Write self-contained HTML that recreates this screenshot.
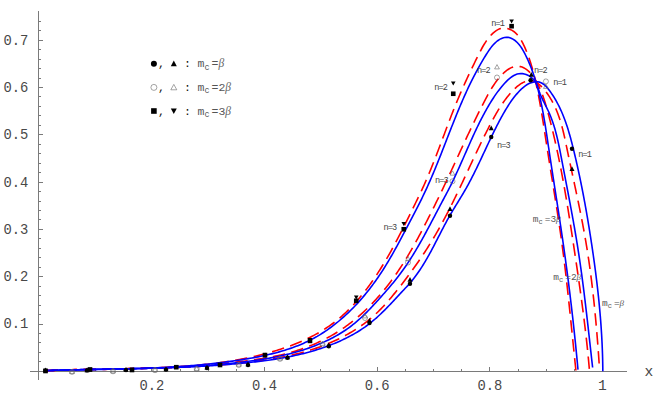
<!DOCTYPE html>
<html><head><meta charset="utf-8"><title>plot</title>
<style>
html,body{margin:0;padding:0;background:#fff;}
body{width:656px;height:405px;overflow:hidden;}
svg{display:block;}
text{font-family:"Liberation Mono",monospace;}
.t{font-size:14.6px;fill:#484848;}
.l{font-size:11.5px;fill:#555;}
.s{font-size:9.5px;fill:#555;}
.n{font-size:8.6px;fill:#444;}
.i{font-family:"Liberation Serif",serif;font-style:italic;}
</style></head><body>
<svg width="656" height="405" viewBox="0 0 656 405">
<rect width="656" height="405" fill="#fff"/>

<path d="M30 371.3H627 M38.4 11V379.5 M38.4 361.84h2.4 M38.4 352.38h2.4 M38.4 342.92h2.4 M38.4 333.46h2.4 M38.4 324.00h4.2 M38.4 314.54h2.4 M38.4 305.08h2.4 M38.4 295.62h2.4 M38.4 286.16h2.4 M38.4 276.70h4.2 M38.4 267.24h2.4 M38.4 257.78h2.4 M38.4 248.32h2.4 M38.4 238.86h2.4 M38.4 229.40h4.2 M38.4 219.94h2.4 M38.4 210.48h2.4 M38.4 201.02h2.4 M38.4 191.56h2.4 M38.4 182.10h4.2 M38.4 172.64h2.4 M38.4 163.18h2.4 M38.4 153.72h2.4 M38.4 144.26h2.4 M38.4 134.80h4.2 M38.4 125.34h2.4 M38.4 115.88h2.4 M38.4 106.42h2.4 M38.4 96.96h2.4 M38.4 87.50h4.2 M38.4 78.04h2.4 M38.4 68.58h2.4 M38.4 59.12h2.4 M38.4 49.66h2.4 M38.4 40.20h4.2 M38.4 30.74h2.4 M38.4 21.28h2.4 M67.37 371.3v-2.4 M95.53 371.3v-2.4 M123.70 371.3v-2.4 M151.86 371.3v-4.2 M180.02 371.3v-2.4 M208.19 371.3v-2.4 M236.36 371.3v-2.4 M264.52 371.3v-4.2 M292.69 371.3v-2.4 M320.85 371.3v-2.4 M349.01 371.3v-2.4 M377.18 371.3v-4.2 M405.34 371.3v-2.4 M433.51 371.3v-2.4 M461.67 371.3v-2.4 M489.84 371.3v-4.2 M518.00 371.3v-2.4 M546.17 371.3v-2.4 M574.34 371.3v-2.4 M602.50 371.3v-4.2" stroke="#7a7a7a" stroke-width="1" fill="none" shape-rendering="crispEdges"/>
<text class="t" x="3.4" y="328.4" textLength="24.9" lengthAdjust="spacingAndGlyphs">0.1</text>
<text class="t" x="3.4" y="281.1" textLength="24.9" lengthAdjust="spacingAndGlyphs">0.2</text>
<text class="t" x="3.4" y="233.8" textLength="24.9" lengthAdjust="spacingAndGlyphs">0.3</text>
<text class="t" x="3.4" y="186.5" textLength="24.9" lengthAdjust="spacingAndGlyphs">0.4</text>
<text class="t" x="3.4" y="139.2" textLength="24.9" lengthAdjust="spacingAndGlyphs">0.5</text>
<text class="t" x="3.4" y="91.9" textLength="24.9" lengthAdjust="spacingAndGlyphs">0.6</text>
<text class="t" x="3.4" y="44.6" textLength="24.9" lengthAdjust="spacingAndGlyphs">0.7</text>
<text class="t" x="139.4" y="390.4" textLength="24.9" lengthAdjust="spacingAndGlyphs">0.2</text>
<text class="t" x="252.1" y="390.4" textLength="24.9" lengthAdjust="spacingAndGlyphs">0.4</text>
<text class="t" x="364.7" y="390.4" textLength="24.9" lengthAdjust="spacingAndGlyphs">0.6</text>
<text class="t" x="477.4" y="390.4" textLength="24.9" lengthAdjust="spacingAndGlyphs">0.8</text>
<text class="t" x="602.5" y="390.3" text-anchor="middle">1</text>
<text class="t" x="644.5" y="375.5">x</text>
<path d="M45.51 370.67 L47.36 370.59 L49.21 370.51 L51.06 370.44 L52.92 370.37 L54.77 370.30 L56.62 370.23 L58.47 370.17 L60.33 370.11 L62.18 370.04 L64.03 369.99 L65.89 369.93 L67.74 369.88 L69.59 369.82 L71.45 369.77 L73.30 369.72 L75.15 369.67 L77.01 369.63 L78.86 369.58 L80.72 369.54 L82.57 369.50 L84.43 369.46 L86.28 369.42 L88.14 369.38 L89.99 369.34 L91.85 369.30 L93.70 369.27 L95.56 369.23 L97.41 369.20 L99.27 369.16 L101.12 369.13 L102.98 369.10 L104.84 369.07 L106.69 369.04 L108.55 369.00 L110.40 368.97 L112.26 368.94 L114.12 368.91 L115.97 368.88 L117.83 368.85 L119.68 368.82 L121.54 368.79 L123.40 368.76 L125.25 368.72 L127.11 368.69 L128.96 368.66 L130.82 368.63 L132.68 368.59 L134.53 368.56 L136.39 368.52 L138.24 368.49 L140.10 368.45 L141.96 368.41 L143.81 368.37 L145.67 368.33 L147.52 368.29 L149.38 368.25 L151.24 368.21 L153.09 368.16 L154.95 368.12 L156.80 368.07 L158.66 368.02 L160.51 367.97 L162.37 367.91 L164.22 367.86 L166.08 367.80 L167.93 367.74 L169.79 367.68 L171.64 367.62 L173.50 367.56 L175.35 367.49 L177.21 367.42 L179.06 367.35 L180.91 367.27 L182.77 367.20 L184.62 367.12 L186.48 367.03 L188.33 366.95 L190.18 366.86 L192.03 366.77 L193.89 366.68 L195.74 366.58 L197.59 366.48 L199.45 366.38 L201.30 366.27 L203.15 366.16 L205.00 366.05 L206.85 365.94 L208.70 365.82 L210.55 365.69 L212.41 365.57 L214.26 365.43 L216.11 365.30 L217.96 365.16 L219.81 365.02 L221.66 364.87 L223.51 364.72 L225.36 364.57 L227.20 364.41 L229.05 364.25 L230.90 364.08 L232.75 363.91 L234.60 363.73 L236.44 363.55 L238.29 363.37 L240.14 363.18 L241.98 362.98 L243.83 362.78 L245.68 362.58 L247.52 362.37 L249.37 362.15 L251.21 361.93 L253.06 361.70 L254.90 361.47 L256.74 361.23 L258.58 360.99 L260.42 360.74 L262.26 360.48 L264.10 360.21 L265.94 359.94 L267.77 359.65 L269.60 359.36 L271.44 359.07 L273.27 358.76 L275.09 358.44 L276.92 358.12 L278.74 357.78 L280.56 357.44 L282.38 357.09 L284.20 356.72 L286.01 356.35 L287.82 355.96 L289.63 355.57 L291.43 355.16 L293.23 354.74 L295.03 354.31 L296.83 353.87 L298.62 353.41 L300.41 352.94 L302.19 352.46 L303.97 351.97 L305.75 351.46 L307.52 350.94 L309.29 350.41 L311.05 349.86 L312.81 349.30 L314.57 348.72 L316.32 348.13 L318.06 347.52 L319.80 346.90 L321.54 346.27 L323.27 345.61 L325.00 344.94 L326.72 344.26 L328.44 343.55 L330.15 342.83 L331.85 342.10 L333.55 341.34 L335.24 340.57 L336.93 339.78 L338.61 338.97 L340.29 338.15 L341.96 337.30 L343.62 336.44 L345.27 335.56 L346.92 334.66 L348.55 333.74 L350.18 332.80 L351.79 331.84 L353.40 330.87 L354.99 329.88 L356.57 328.86 L358.14 327.83 L359.69 326.79 L361.23 325.72 L362.76 324.63 L364.26 323.53 L365.76 322.41 L367.23 321.27 L368.69 320.11 L370.13 318.93 L371.55 317.73 L372.95 316.52 L374.34 315.28 L375.70 314.03 L377.04 312.77 L378.37 311.48 L379.68 310.18 L380.97 308.87 L382.25 307.54 L383.51 306.19 L384.76 304.84 L386.00 303.47 L387.22 302.09 L388.44 300.70 L389.64 299.31 L390.83 297.90 L392.02 296.48 L393.19 295.06 L394.36 293.63 L395.53 292.19 L396.69 290.75 L397.84 289.30 L398.99 287.85 L400.13 286.39 L401.27 284.93 L402.41 283.46 L403.54 281.99 L404.66 280.52 L405.79 279.04 L406.90 277.56 L408.01 276.07 L409.12 274.58 L410.22 273.08 L411.32 271.58 L412.41 270.08 L413.49 268.57 L414.57 267.06 L415.64 265.54 L416.71 264.02 L417.77 262.49 L418.83 260.96 L419.88 259.43 L420.92 257.89 L421.96 256.35 L422.99 254.80 L424.01 253.25 L425.03 251.70 L426.04 250.14 L427.04 248.57 L428.04 247.01 L429.03 245.43 L430.01 243.86 L430.99 242.28 L431.96 240.69 L432.92 239.11 L433.87 237.51 L434.82 235.92 L435.76 234.32 L436.69 232.71 L437.61 231.10 L438.52 229.49 L439.43 227.88 L440.33 226.26 L441.23 224.63 L442.12 223.01 L443.00 221.38 L443.88 219.74 L444.74 218.11 L445.61 216.47 L446.47 214.83 L447.32 213.18 L448.17 211.53 L449.01 209.88 L449.85 208.23 L450.68 206.58 L451.51 204.92 L452.34 203.26 L453.16 201.60 L453.98 199.94 L454.79 198.27 L455.60 196.60 L456.41 194.94 L457.21 193.27 L458.01 191.59 L458.81 189.92 L459.61 188.25 L460.40 186.57 L461.20 184.90 L461.99 183.22 L462.78 181.54 L463.56 179.87 L464.35 178.19 L465.13 176.51 L465.92 174.83 L466.70 173.15 L467.49 171.47 L468.27 169.79 L469.05 168.11 L469.84 166.43 L470.62 164.75 L471.41 163.08 L472.19 161.40 L472.98 159.72 L473.77 158.04 L474.56 156.37 L475.35 154.69 L476.14 153.02 L476.94 151.35 L477.73 149.68 L478.53 148.01 L479.33 146.34 L480.14 144.67 L480.95 143.01 L481.76 141.34 L482.57 139.68 L483.39 138.02 L484.21 136.37 L485.04 134.71 L485.87 133.06 L486.70 131.41 L487.54 129.76 L488.39 128.12 L489.23 126.48 L490.09 124.84 L490.95 123.20 L491.81 121.57 L492.68 119.94 L493.56 118.31 L494.46 116.69 L495.36 115.06 L496.29 113.44 L497.23 111.81 L498.20 110.19 L499.20 108.56 L500.23 106.93 L501.30 105.29 L502.40 103.66 L503.54 102.01 L504.73 100.36 L505.96 98.71 L507.24 97.05 L508.56 95.41 L509.92 93.79 L511.32 92.20 L512.75 90.67 L514.21 89.19 L515.69 87.80 L517.20 86.48 L518.72 85.27 L520.26 84.17 L521.81 83.19 L523.36 82.35 L524.92 81.66 L526.47 81.13 L528.03 80.78 L529.57 80.61 L531.11 80.64 L532.63 80.89 L534.13 81.35 L535.61 82.02 L537.06 82.87 L538.49 83.89 L539.88 85.04 L541.24 86.32 L542.56 87.69 L543.84 89.14 L545.08 90.65 L546.27 92.19 L547.42 93.75 L548.51 95.33 L549.56 96.93 L550.56 98.54 L551.52 100.17 L552.44 101.81 L553.32 103.47 L554.16 105.14 L554.97 106.82 L555.74 108.52 L556.47 110.23 L557.18 111.95 L557.85 113.68 L558.49 115.43 L559.11 117.18 L559.70 118.94 L560.26 120.71 L560.80 122.49 L561.32 124.28 L561.82 126.07 L562.30 127.87 L562.77 129.67 L563.22 131.49 L563.65 133.30 L564.07 135.12 L564.49 136.94 L564.89 138.77 L565.28 140.60 L565.67 142.43 L566.05 144.26 L566.43 146.09 L566.81 147.92 L567.19 149.75 L567.57 151.58 L567.95 153.41 L568.33 155.23 L568.72 157.06 L569.10 158.88 L569.49 160.71 L569.87 162.53 L570.26 164.35 L570.65 166.17 L571.04 167.99 L571.43 169.81 L571.82 171.63 L572.20 173.44 L572.59 175.26 L572.98 177.08 L573.37 178.89 L573.76 180.71 L574.15 182.52 L574.54 184.33 L574.92 186.15 L575.31 187.96 L575.70 189.77 L576.08 191.59 L576.46 193.40 L576.85 195.21 L577.23 197.02 L577.61 198.84 L577.98 200.65 L578.36 202.46 L578.73 204.27 L579.11 206.08 L579.48 207.90 L579.84 209.71 L580.21 211.52 L580.57 213.34 L580.93 215.15 L581.29 216.96 L581.65 218.78 L582.00 220.59 L582.35 222.41 L582.70 224.22 L583.04 226.04 L583.38 227.86 L583.72 229.68 L584.05 231.50 L584.38 233.32 L584.70 235.14 L585.02 236.96 L585.34 238.78 L585.66 240.61 L585.96 242.43 L586.27 244.26 L586.57 246.08 L586.87 247.91 L587.16 249.74 L587.45 251.57 L587.73 253.40 L588.01 255.23 L588.29 257.07 L588.56 258.90 L588.83 260.74 L589.10 262.57 L589.36 264.41 L589.62 266.24 L589.87 268.08 L590.12 269.92 L590.37 271.76 L590.61 273.60 L590.86 275.44 L591.09 277.28 L591.33 279.12 L591.56 280.97 L591.78 282.81 L592.01 284.65 L592.23 286.50 L592.45 288.34 L592.66 290.19 L592.87 292.03 L593.08 293.88 L593.29 295.72 L593.49 297.57 L593.69 299.42 L593.89 301.27 L594.08 303.11 L594.27 304.96 L594.46 306.81 L594.65 308.66 L594.83 310.51 L595.01 312.36 L595.19 314.21 L595.36 316.06 L595.54 317.91 L595.71 319.76 L595.88 321.61 L596.04 323.46 L596.21 325.31 L596.37 327.16 L596.53 329.01 L596.69 330.86 L596.84 332.71 L596.99 334.56 L597.14 336.41 L597.29 338.26 L597.44 340.11 L597.59 341.96 L597.73 343.81 L597.87 345.66 L598.01 347.51 L598.15 349.36 L598.29 351.21 L598.42 353.06 L598.56 354.90 L598.69 356.75 L598.82 358.60 L598.95 360.45 L599.07 362.30 L599.20 364.14 L599.32 365.99" stroke="#ff0000" stroke-width="1.6" fill="none" stroke-dasharray="12.5 6.5"/>
<path d="M45.50 370.56 L47.39 370.52 L49.28 370.47 L51.17 370.43 L53.06 370.39 L54.95 370.35 L56.84 370.30 L58.73 370.26 L60.62 370.23 L62.51 370.19 L64.40 370.15 L66.29 370.11 L68.19 370.07 L70.08 370.04 L71.97 370.00 L73.86 369.97 L75.75 369.93 L77.64 369.90 L79.53 369.86 L81.43 369.82 L83.32 369.79 L85.21 369.75 L87.10 369.72 L88.99 369.68 L90.89 369.65 L92.78 369.61 L94.67 369.58 L96.56 369.54 L98.45 369.50 L100.35 369.47 L102.24 369.43 L104.13 369.39 L106.02 369.35 L107.91 369.31 L109.81 369.27 L111.70 369.23 L113.59 369.19 L115.48 369.15 L117.38 369.10 L119.27 369.06 L121.16 369.01 L123.05 368.97 L124.94 368.92 L126.83 368.87 L128.73 368.82 L130.62 368.77 L132.51 368.71 L134.40 368.66 L136.29 368.60 L138.18 368.54 L140.07 368.49 L141.97 368.42 L143.86 368.36 L145.75 368.30 L147.64 368.23 L149.53 368.16 L151.42 368.09 L153.31 368.02 L155.20 367.95 L157.09 367.87 L158.98 367.79 L160.87 367.71 L162.76 367.63 L164.65 367.55 L166.54 367.46 L168.43 367.37 L170.32 367.28 L172.20 367.18 L174.09 367.08 L175.98 366.98 L177.87 366.88 L179.76 366.78 L181.64 366.67 L183.53 366.56 L185.42 366.44 L187.31 366.33 L189.19 366.21 L191.08 366.08 L192.97 365.96 L194.85 365.83 L196.74 365.70 L198.62 365.56 L200.51 365.42 L202.39 365.28 L204.28 365.13 L206.16 364.98 L208.05 364.83 L209.93 364.67 L211.81 364.51 L213.70 364.35 L215.58 364.18 L217.46 364.01 L219.34 363.83 L221.23 363.65 L223.11 363.47 L224.99 363.28 L226.87 363.09 L228.75 362.89 L230.63 362.69 L232.51 362.49 L234.39 362.28 L236.27 362.07 L238.15 361.85 L240.03 361.63 L241.90 361.40 L243.78 361.17 L245.66 360.94 L247.54 360.69 L249.41 360.45 L251.29 360.20 L253.16 359.94 L255.04 359.67 L256.91 359.40 L258.78 359.12 L260.65 358.83 L262.52 358.53 L264.39 358.22 L266.25 357.90 L268.12 357.57 L269.98 357.23 L271.84 356.88 L273.69 356.51 L275.55 356.13 L277.40 355.74 L279.25 355.33 L281.09 354.91 L282.94 354.47 L284.78 354.01 L286.61 353.54 L288.45 353.05 L290.28 352.55 L292.10 352.03 L293.92 351.49 L295.74 350.93 L297.55 350.36 L299.35 349.76 L301.15 349.16 L302.95 348.53 L304.74 347.89 L306.52 347.22 L308.29 346.54 L310.06 345.85 L311.82 345.13 L313.57 344.40 L315.31 343.65 L317.05 342.88 L318.77 342.10 L320.49 341.29 L322.20 340.47 L323.89 339.63 L325.58 338.77 L327.26 337.90 L328.92 337.00 L330.58 336.09 L332.23 335.16 L333.86 334.21 L335.48 333.24 L337.09 332.25 L338.68 331.25 L340.27 330.22 L341.84 329.18 L343.40 328.12 L344.95 327.04 L346.48 325.95 L348.00 324.84 L349.51 323.71 L351.01 322.56 L352.50 321.40 L353.97 320.22 L355.43 319.03 L356.88 317.82 L358.32 316.60 L359.75 315.36 L361.16 314.11 L362.56 312.84 L363.95 311.56 L365.33 310.26 L366.69 308.96 L368.05 307.63 L369.39 306.30 L370.72 304.95 L372.04 303.59 L373.34 302.22 L374.64 300.84 L375.92 299.44 L377.19 298.04 L378.45 296.62 L379.70 295.19 L380.93 293.76 L382.16 292.31 L383.37 290.85 L384.57 289.38 L385.76 287.90 L386.94 286.42 L388.11 284.92 L389.27 283.42 L390.41 281.91 L391.55 280.39 L392.67 278.86 L393.78 277.33 L394.88 275.78 L395.97 274.24 L397.04 272.68 L398.11 271.12 L399.17 269.55 L400.21 267.98 L401.25 266.40 L402.27 264.81 L403.29 263.22 L404.29 261.62 L405.29 260.02 L406.28 258.41 L407.26 256.80 L408.23 255.18 L409.19 253.56 L410.15 251.93 L411.10 250.30 L412.04 248.66 L412.97 247.02 L413.90 245.37 L414.82 243.73 L415.74 242.07 L416.65 240.42 L417.55 238.76 L418.45 237.10 L419.35 235.43 L420.24 233.76 L421.12 232.09 L422.00 230.42 L422.88 228.74 L423.75 227.06 L424.62 225.38 L425.49 223.70 L426.35 222.01 L427.21 220.32 L428.07 218.64 L428.93 216.94 L429.78 215.25 L430.64 213.56 L431.49 211.87 L432.34 210.17 L433.18 208.48 L434.03 206.78 L434.87 205.08 L435.70 203.39 L436.54 201.69 L437.37 199.99 L438.20 198.29 L439.03 196.60 L439.85 194.90 L440.67 193.20 L441.49 191.51 L442.30 189.81 L443.11 188.12 L443.91 186.43 L444.71 184.74 L445.51 183.04 L446.31 181.35 L447.10 179.66 L447.90 177.98 L448.68 176.29 L449.47 174.60 L450.26 172.91 L451.04 171.22 L451.82 169.53 L452.61 167.85 L453.39 166.16 L454.17 164.47 L454.95 162.78 L455.73 161.10 L456.50 159.41 L457.28 157.72 L458.06 156.03 L458.84 154.34 L459.62 152.65 L460.41 150.96 L461.19 149.27 L461.97 147.57 L462.76 145.88 L463.55 144.19 L464.34 142.49 L465.13 140.79 L465.92 139.10 L466.72 137.40 L467.52 135.70 L468.32 134.00 L469.13 132.29 L469.94 130.59 L470.75 128.88 L471.57 127.17 L472.39 125.46 L473.21 123.75 L474.04 122.04 L474.87 120.32 L475.71 118.60 L476.56 116.88 L477.41 115.16 L478.26 113.44 L479.12 111.71 L479.99 109.98 L480.86 108.25 L481.74 106.51 L482.62 104.78 L483.52 103.04 L484.41 101.29 L485.32 99.55 L486.24 97.80 L487.18 96.04 L488.14 94.27 L489.14 92.48 L490.19 90.68 L491.29 88.85 L492.44 87.02 L493.64 85.19 L494.88 83.37 L496.16 81.59 L497.49 79.84 L498.85 78.14 L500.25 76.51 L501.68 74.95 L503.14 73.49 L504.62 72.12 L506.14 70.86 L507.67 69.73 L509.22 68.74 L510.80 67.89 L512.38 67.20 L513.98 66.69 L515.59 66.37 L517.20 66.24 L518.82 66.31 L520.44 66.61 L522.05 67.11 L523.64 67.79 L525.20 68.66 L526.72 69.67 L528.19 70.83 L529.59 72.12 L530.92 73.52 L532.17 75.02 L533.34 76.60 L534.44 78.24 L535.47 79.92 L536.45 81.62 L537.39 83.34 L538.27 85.07 L539.11 86.82 L539.92 88.57 L540.68 90.32 L541.41 92.09 L542.10 93.87 L542.77 95.65 L543.41 97.44 L544.02 99.23 L544.60 101.04 L545.17 102.84 L545.72 104.65 L546.25 106.46 L546.77 108.28 L547.28 110.10 L547.78 111.92 L548.28 113.75 L548.77 115.57 L549.25 117.39 L549.73 119.22 L550.21 121.05 L550.67 122.88 L551.14 124.71 L551.60 126.54 L552.05 128.37 L552.50 130.21 L552.94 132.04 L553.38 133.88 L553.81 135.72 L554.24 137.56 L554.67 139.40 L555.09 141.24 L555.51 143.08 L555.92 144.92 L556.32 146.77 L556.73 148.61 L557.13 150.46 L557.52 152.30 L557.91 154.15 L558.30 156.00 L558.68 157.85 L559.06 159.70 L559.44 161.55 L559.81 163.41 L560.18 165.26 L560.54 167.11 L560.91 168.97 L561.26 170.82 L561.62 172.68 L561.97 174.54 L562.32 176.39 L562.66 178.25 L563.01 180.11 L563.35 181.97 L563.68 183.83 L564.02 185.69 L564.35 187.56 L564.68 189.42 L565.00 191.28 L565.33 193.14 L565.65 195.01 L565.96 196.87 L566.28 198.74 L566.59 200.60 L566.91 202.47 L567.22 204.34 L567.52 206.20 L567.83 208.07 L568.13 209.94 L568.44 211.81 L568.74 213.68 L569.03 215.54 L569.33 217.41 L569.63 219.28 L569.92 221.15 L570.21 223.02 L570.50 224.89 L570.79 226.76 L571.08 228.63 L571.37 230.51 L571.66 232.38 L571.94 234.25 L572.23 236.12 L572.51 237.99 L572.80 239.86 L573.08 241.73 L573.36 243.61 L573.64 245.48 L573.92 247.35 L574.20 249.22 L574.48 251.09 L574.76 252.97 L575.04 254.84 L575.32 256.71 L575.60 258.58 L575.88 260.45 L576.15 262.33 L576.43 264.20 L576.71 266.07 L576.98 267.94 L577.26 269.81 L577.53 271.69 L577.80 273.56 L578.08 275.43 L578.35 277.30 L578.62 279.17 L578.89 281.05 L579.15 282.92 L579.42 284.79 L579.68 286.67 L579.95 288.54 L580.21 290.41 L580.47 292.29 L580.73 294.16 L580.99 296.03 L581.25 297.91 L581.50 299.78 L581.76 301.65 L582.01 303.53 L582.26 305.40 L582.50 307.28 L582.75 309.15 L583.00 311.03 L583.24 312.90 L583.48 314.78 L583.72 316.66 L583.95 318.53 L584.19 320.41 L584.42 322.29 L584.65 324.16 L584.88 326.04 L585.10 327.92 L585.32 329.80 L585.54 331.67 L585.76 333.55 L585.98 335.43 L586.19 337.31 L586.40 339.19 L586.61 341.07 L586.81 342.95 L587.01 344.83 L587.21 346.71 L587.41 348.59 L587.60 350.47 L587.79 352.36 L587.97 354.24 L588.16 356.12 L588.34 358.00 L588.52 359.89 L588.69 361.77 L588.86 363.66 L589.03 365.54 L589.19 367.43 L589.35 369.31 L589.51 371.20" stroke="#ff0000" stroke-width="1.6" fill="none" stroke-dasharray="12.5 6.5"/>
<path d="M45.52 370.71 L47.51 370.61 L49.51 370.51 L51.50 370.41 L53.50 370.33 L55.50 370.24 L57.49 370.16 L59.49 370.08 L61.49 370.01 L63.49 369.94 L65.49 369.87 L67.49 369.81 L69.49 369.75 L71.50 369.69 L73.50 369.64 L75.50 369.59 L77.51 369.54 L79.51 369.49 L81.52 369.45 L83.52 369.40 L85.53 369.36 L87.54 369.32 L89.54 369.28 L91.55 369.25 L93.56 369.21 L95.57 369.18 L97.57 369.14 L99.58 369.11 L101.59 369.08 L103.60 369.05 L105.61 369.02 L107.62 368.99 L109.63 368.95 L111.64 368.92 L113.65 368.89 L115.66 368.86 L117.67 368.83 L119.68 368.79 L121.69 368.76 L123.71 368.72 L125.72 368.69 L127.73 368.65 L129.74 368.61 L131.75 368.57 L133.76 368.52 L135.77 368.48 L137.78 368.43 L139.79 368.38 L141.80 368.33 L143.81 368.27 L145.82 368.21 L147.83 368.15 L149.84 368.09 L151.84 368.02 L153.85 367.95 L155.86 367.88 L157.87 367.80 L159.87 367.72 L161.88 367.63 L163.89 367.54 L165.89 367.45 L167.90 367.35 L169.90 367.24 L171.91 367.13 L173.91 367.02 L175.91 366.90 L177.91 366.78 L179.92 366.65 L181.92 366.51 L183.92 366.37 L185.92 366.23 L187.92 366.08 L189.91 365.92 L191.91 365.75 L193.91 365.58 L195.90 365.40 L197.90 365.22 L199.89 365.03 L201.88 364.83 L203.88 364.62 L205.87 364.41 L207.86 364.19 L209.85 363.96 L211.83 363.72 L213.82 363.47 L215.81 363.22 L217.79 362.96 L219.77 362.69 L221.76 362.41 L223.74 362.12 L225.72 361.83 L227.70 361.52 L229.68 361.21 L231.65 360.88 L233.63 360.55 L235.60 360.20 L237.57 359.85 L239.54 359.49 L241.51 359.11 L243.48 358.73 L245.45 358.33 L247.41 357.93 L249.38 357.51 L251.34 357.09 L253.30 356.65 L255.26 356.20 L257.22 355.74 L259.17 355.26 L261.13 354.78 L263.08 354.28 L265.03 353.78 L266.98 353.26 L268.93 352.72 L270.87 352.18 L272.81 351.62 L274.75 351.04 L276.68 350.46 L278.61 349.86 L280.54 349.24 L282.46 348.61 L284.37 347.97 L286.28 347.31 L288.18 346.63 L290.07 345.94 L291.96 345.23 L293.84 344.51 L295.71 343.76 L297.57 343.01 L299.42 342.23 L301.27 341.44 L303.10 340.62 L304.93 339.79 L306.74 338.94 L308.54 338.08 L310.33 337.19 L312.11 336.28 L313.88 335.36 L315.63 334.41 L317.37 333.44 L319.10 332.45 L320.81 331.44 L322.51 330.41 L324.20 329.36 L325.87 328.29 L327.52 327.19 L329.16 326.07 L330.78 324.93 L332.39 323.76 L333.97 322.57 L335.54 321.36 L337.10 320.12 L338.63 318.87 L340.15 317.59 L341.65 316.29 L343.14 314.96 L344.61 313.62 L346.07 312.26 L347.50 310.88 L348.93 309.48 L350.33 308.06 L351.73 306.62 L353.10 305.16 L354.47 303.69 L355.81 302.20 L357.15 300.70 L358.46 299.18 L359.77 297.64 L361.06 296.09 L362.34 294.53 L363.60 292.95 L364.85 291.36 L366.08 289.76 L367.31 288.14 L368.52 286.52 L369.71 284.88 L370.90 283.23 L372.07 281.57 L373.23 279.90 L374.38 278.22 L375.52 276.53 L376.64 274.84 L377.76 273.14 L378.86 271.43 L379.95 269.71 L381.03 267.99 L382.10 266.26 L383.16 264.52 L384.21 262.78 L385.25 261.04 L386.28 259.29 L387.30 257.54 L388.31 255.79 L389.31 254.03 L390.30 252.28 L391.28 250.52 L392.25 248.76 L393.22 247.00 L394.17 245.24 L395.12 243.48 L396.06 241.72 L396.99 239.96 L397.92 238.21 L398.83 236.45 L399.74 234.70 L400.65 232.95 L401.55 231.20 L402.44 229.44 L403.33 227.69 L404.22 225.93 L405.10 224.18 L405.98 222.42 L406.86 220.65 L407.74 218.89 L408.61 217.11 L409.49 215.34 L410.37 213.56 L411.24 211.77 L412.12 209.98 L413.01 208.18 L413.89 206.37 L414.78 204.56 L415.67 202.74 L416.57 200.91 L417.47 199.07 L418.37 197.22 L419.27 195.37 L420.16 193.51 L421.03 191.66 L421.90 189.80 L422.75 187.95 L423.60 186.09 L424.43 184.23 L425.25 182.37 L426.06 180.51 L426.87 178.65 L427.66 176.79 L428.45 174.93 L429.23 173.06 L430.00 171.20 L430.76 169.34 L431.51 167.47 L432.26 165.61 L433.01 163.75 L433.74 161.88 L434.48 160.02 L435.20 158.15 L435.93 156.29 L436.64 154.42 L437.36 152.56 L438.07 150.69 L438.78 148.83 L439.48 146.96 L440.19 145.10 L440.89 143.24 L441.59 141.37 L442.28 139.51 L442.98 137.65 L443.68 135.78 L444.38 133.92 L445.07 132.06 L445.77 130.20 L446.47 128.34 L447.17 126.48 L447.88 124.62 L448.58 122.76 L449.29 120.90 L450.00 119.04 L450.71 117.19 L451.43 115.33 L452.15 113.48 L452.88 111.63 L453.61 109.77 L454.35 107.92 L455.09 106.07 L455.84 104.23 L456.60 102.38 L457.36 100.53 L458.13 98.69 L458.91 96.84 L459.69 95.00 L460.49 93.16 L461.28 91.32 L462.09 89.49 L462.90 87.65 L463.72 85.82 L464.54 83.99 L465.37 82.16 L466.20 80.34 L467.04 78.51 L467.89 76.69 L468.74 74.87 L469.59 73.06 L470.45 71.25 L471.32 69.44 L472.18 67.63 L473.06 65.83 L473.93 64.03 L474.81 62.23 L475.69 60.44 L476.58 58.65 L477.47 56.86 L478.36 55.08 L479.26 53.30 L480.16 51.53 L481.08 49.76 L482.03 48.00 L483.01 46.26 L484.04 44.52 L485.12 42.81 L486.25 41.10 L487.46 39.42 L488.74 37.76 L490.10 36.14 L491.53 34.58 L493.04 33.13 L494.60 31.79 L496.23 30.62 L497.92 29.63 L499.66 28.85 L501.44 28.31 L503.27 28.05 L505.14 28.07 L507.02 28.36 L508.88 28.89 L510.70 29.65 L512.46 30.62 L514.14 31.76 L515.70 33.07 L517.13 34.52 L518.44 36.09 L519.65 37.77 L520.77 39.52 L521.81 41.33 L522.79 43.19 L523.71 45.07 L524.59 46.95 L525.43 48.84 L526.24 50.73 L527.01 52.62 L527.75 54.51 L528.46 56.41 L529.14 58.30 L529.79 60.21 L530.41 62.11 L531.01 64.02 L531.58 65.93 L532.14 67.84 L532.67 69.75 L533.18 71.67 L533.68 73.59 L534.16 75.52 L534.62 77.45 L535.08 79.38 L535.52 81.32 L535.96 83.25 L536.38 85.20 L536.80 87.14 L537.21 89.09 L537.61 91.05 L538.00 93.00 L538.39 94.96 L538.77 96.92 L539.14 98.89 L539.51 100.85 L539.87 102.82 L540.23 104.79 L540.58 106.77 L540.92 108.74 L541.26 110.72 L541.60 112.70 L541.93 114.68 L542.25 116.66 L542.58 118.64 L542.90 120.63 L543.22 122.61 L543.53 124.60 L543.84 126.59 L544.15 128.58 L544.46 130.57 L544.77 132.56 L545.07 134.55 L545.38 136.54 L545.68 138.53 L545.99 140.52 L546.29 142.51 L546.60 144.50 L546.90 146.49 L547.21 148.47 L547.52 150.46 L547.83 152.45 L548.14 154.44 L548.45 156.42 L548.76 158.41 L549.08 160.39 L549.39 162.38 L549.71 164.36 L550.03 166.35 L550.34 168.33 L550.66 170.31 L550.98 172.29 L551.30 174.27 L551.62 176.25 L551.94 178.24 L552.26 180.22 L552.58 182.20 L552.90 184.18 L553.22 186.16 L553.54 188.13 L553.85 190.11 L554.17 192.09 L554.49 194.07 L554.81 196.05 L555.12 198.03 L555.44 200.01 L555.75 201.99 L556.07 203.97 L556.38 205.94 L556.69 207.92 L557.00 209.90 L557.31 211.88 L557.61 213.86 L557.92 215.84 L558.22 217.82 L558.52 219.80 L558.82 221.78 L559.12 223.76 L559.41 225.74 L559.70 227.72 L559.99 229.71 L560.28 231.69 L560.57 233.67 L560.85 235.65 L561.13 237.64 L561.40 239.62 L561.68 241.61 L561.95 243.59 L562.22 245.58 L562.48 247.57 L562.74 249.55 L563.00 251.54 L563.26 253.53 L563.52 255.52 L563.77 257.51 L564.02 259.50 L564.26 261.49 L564.51 263.48 L564.75 265.47 L564.99 267.46 L565.23 269.45 L565.47 271.44 L565.70 273.43 L565.93 275.43 L566.16 277.42 L566.39 279.41 L566.62 281.41 L566.84 283.40 L567.07 285.40 L567.29 287.39 L567.51 289.39 L567.73 291.38 L567.94 293.38 L568.16 295.37 L568.37 297.37 L568.59 299.36 L568.80 301.36 L569.01 303.35 L569.22 305.35 L569.43 307.35 L569.64 309.34 L569.85 311.34 L570.05 313.33 L570.26 315.33 L570.47 317.33 L570.67 319.32 L570.88 321.32 L571.08 323.32 L571.28 325.31 L571.49 327.31 L571.69 329.31 L571.89 331.30 L572.09 333.30 L572.30 335.29 L572.50 337.29 L572.70 339.29 L572.90 341.28 L573.11 343.28 L573.31 345.27 L573.51 347.27 L573.71 349.26 L573.92 351.26 L574.12 353.25 L574.33 355.24 L574.53 357.24 L574.74 359.23 L574.94 361.22 L575.15 363.22 L575.36 365.21 L575.57 367.20 L575.78 369.19 L575.99 371.19" stroke="#ff0000" stroke-width="1.6" fill="none" stroke-dasharray="12.5 6.5"/>
<path d="M45.51 370.63 L47.38 370.56 L49.25 370.50 L51.12 370.43 L52.99 370.37 L54.86 370.31 L56.73 370.26 L58.60 370.20 L60.47 370.15 L62.34 370.10 L64.22 370.04 L66.09 369.99 L67.96 369.95 L69.83 369.90 L71.70 369.85 L73.58 369.81 L75.45 369.76 L77.32 369.72 L79.19 369.68 L81.07 369.64 L82.94 369.60 L84.81 369.56 L86.69 369.52 L88.56 369.48 L90.43 369.45 L92.31 369.41 L94.18 369.37 L96.06 369.34 L97.93 369.30 L99.80 369.27 L101.68 369.23 L103.55 369.20 L105.43 369.17 L107.30 369.13 L109.18 369.10 L111.05 369.06 L112.92 369.03 L114.80 368.99 L116.67 368.96 L118.55 368.93 L120.42 368.89 L122.30 368.86 L124.17 368.82 L126.05 368.78 L127.92 368.75 L129.79 368.71 L131.67 368.67 L133.54 368.63 L135.42 368.59 L137.29 368.55 L139.17 368.51 L141.04 368.47 L142.92 368.43 L144.79 368.38 L146.67 368.34 L148.54 368.29 L150.41 368.24 L152.29 368.20 L154.16 368.15 L156.04 368.09 L157.91 368.04 L159.78 367.99 L161.66 367.93 L163.53 367.87 L165.41 367.81 L167.28 367.75 L169.15 367.69 L171.03 367.62 L172.90 367.56 L174.77 367.49 L176.64 367.42 L178.52 367.35 L180.39 367.27 L182.26 367.19 L184.13 367.11 L186.01 367.03 L187.88 366.95 L189.75 366.86 L191.62 366.77 L193.49 366.68 L195.37 366.59 L197.24 366.49 L199.11 366.39 L200.98 366.29 L202.85 366.18 L204.72 366.08 L206.59 365.97 L208.46 365.85 L210.33 365.73 L212.20 365.61 L214.07 365.49 L215.94 365.36 L217.81 365.23 L219.67 365.10 L221.54 364.96 L223.41 364.82 L225.28 364.68 L227.15 364.53 L229.01 364.38 L230.88 364.23 L232.75 364.07 L234.61 363.91 L236.48 363.74 L238.35 363.57 L240.21 363.40 L242.08 363.22 L243.94 363.04 L245.81 362.85 L247.67 362.66 L249.53 362.47 L251.40 362.27 L253.26 362.06 L255.12 361.85 L256.98 361.63 L258.85 361.41 L260.70 361.19 L262.56 360.95 L264.42 360.71 L266.28 360.46 L268.13 360.21 L269.99 359.94 L271.84 359.67 L273.69 359.40 L275.54 359.11 L277.39 358.81 L279.23 358.51 L281.08 358.19 L282.92 357.87 L284.76 357.54 L286.59 357.20 L288.43 356.84 L290.26 356.48 L292.09 356.11 L293.92 355.72 L295.75 355.32 L297.57 354.91 L299.39 354.49 L301.21 354.06 L303.02 353.62 L304.83 353.16 L306.64 352.69 L308.45 352.21 L310.25 351.71 L312.05 351.20 L313.84 350.67 L315.64 350.13 L317.42 349.58 L319.21 349.01 L320.99 348.42 L322.77 347.82 L324.54 347.21 L326.31 346.58 L328.07 345.93 L329.83 345.26 L331.59 344.58 L333.34 343.88 L335.09 343.17 L336.82 342.43 L338.56 341.68 L340.28 340.91 L342.00 340.13 L343.70 339.32 L345.40 338.50 L347.09 337.65 L348.77 336.79 L350.43 335.91 L352.09 335.01 L353.73 334.09 L355.36 333.15 L356.98 332.19 L358.58 331.21 L360.17 330.21 L361.74 329.18 L363.29 328.14 L364.84 327.08 L366.36 325.99 L367.87 324.88 L369.35 323.75 L370.82 322.60 L372.27 321.42 L373.71 320.23 L375.13 319.01 L376.53 317.78 L377.92 316.53 L379.29 315.27 L380.65 313.99 L382.00 312.70 L383.34 311.39 L384.67 310.07 L385.99 308.75 L387.30 307.41 L388.60 306.06 L389.89 304.71 L391.18 303.35 L392.47 301.99 L393.75 300.62 L395.02 299.25 L396.30 297.88 L397.57 296.51 L398.84 295.14 L400.11 293.77 L401.38 292.40 L402.66 291.03 L403.93 289.68 L405.21 288.32 L406.48 286.96 L407.74 285.59 L408.98 284.21 L410.20 282.82 L411.40 281.40 L412.57 279.97 L413.72 278.52 L414.85 277.05 L415.96 275.57 L417.05 274.06 L418.12 272.55 L419.18 271.02 L420.21 269.47 L421.23 267.92 L422.23 266.35 L423.22 264.77 L424.20 263.17 L425.16 261.57 L426.11 259.96 L427.05 258.33 L427.97 256.70 L428.89 255.06 L429.80 253.42 L430.70 251.76 L431.59 250.10 L432.48 248.44 L433.36 246.77 L434.24 245.10 L435.11 243.42 L435.98 241.74 L436.84 240.06 L437.71 238.38 L438.57 236.70 L439.44 235.01 L440.30 233.33 L441.17 231.65 L442.04 229.97 L442.91 228.29 L443.79 226.62 L444.67 224.95 L445.56 223.29 L446.45 221.63 L447.35 219.98 L448.27 218.33 L449.19 216.69 L450.12 215.06 L451.06 213.44 L452.01 211.82 L452.97 210.21 L453.93 208.61 L454.90 207.01 L455.87 205.41 L456.85 203.82 L457.83 202.23 L458.80 200.63 L459.78 199.04 L460.75 197.45 L461.71 195.85 L462.67 194.25 L463.62 192.64 L464.57 191.03 L465.50 189.41 L466.42 187.78 L467.33 186.15 L468.23 184.51 L469.12 182.86 L470.00 181.21 L470.87 179.55 L471.73 177.89 L472.59 176.22 L473.44 174.54 L474.28 172.87 L475.11 171.18 L475.94 169.50 L476.77 167.81 L477.58 166.11 L478.40 164.42 L479.21 162.72 L480.02 161.02 L480.82 159.32 L481.62 157.62 L482.42 155.91 L483.22 154.21 L484.02 152.50 L484.81 150.80 L485.61 149.09 L486.41 147.39 L487.21 145.68 L488.01 143.98 L488.81 142.28 L489.61 140.58 L490.42 138.89 L491.23 137.19 L492.05 135.50 L492.87 133.82 L493.69 132.13 L494.52 130.45 L495.36 128.78 L496.20 127.11 L497.05 125.44 L497.90 123.78 L498.77 122.13 L499.64 120.48 L500.52 118.84 L501.41 117.20 L502.32 115.57 L503.23 113.95 L504.15 112.34 L505.08 110.73 L506.03 109.14 L506.99 107.55 L507.98 105.98 L508.98 104.41 L510.01 102.86 L511.06 101.32 L512.15 99.80 L513.26 98.29 L514.41 96.80 L515.60 95.32 L516.83 93.87 L518.11 92.43 L519.42 91.01 L520.79 89.63 L522.21 88.29 L523.70 87.03 L525.24 85.85 L526.85 84.78 L528.54 83.83 L530.30 83.04 L532.14 82.40 L534.01 81.96 L535.86 81.75 L537.66 81.79 L539.37 82.11 L540.98 82.69 L542.51 83.50 L543.95 84.51 L545.32 85.69 L546.62 87.01 L547.86 88.44 L549.05 89.95 L550.20 91.51 L551.30 93.09 L552.38 94.68 L553.41 96.28 L554.42 97.90 L555.39 99.53 L556.33 101.18 L557.24 102.83 L558.12 104.50 L558.98 106.18 L559.80 107.87 L560.60 109.57 L561.37 111.28 L562.12 113.00 L562.84 114.72 L563.54 116.46 L564.22 118.21 L564.88 119.96 L565.52 121.72 L566.13 123.49 L566.73 125.26 L567.32 127.04 L567.88 128.83 L568.43 130.62 L568.97 132.41 L569.49 134.21 L570.01 136.02 L570.50 137.83 L570.99 139.64 L571.47 141.45 L571.94 143.27 L572.41 145.09 L572.86 146.91 L573.31 148.74 L573.76 150.56 L574.20 152.38 L574.63 154.21 L575.06 156.04 L575.49 157.86 L575.92 159.69 L576.34 161.52 L576.75 163.35 L577.16 165.17 L577.57 167.00 L577.97 168.83 L578.37 170.67 L578.77 172.50 L579.16 174.33 L579.55 176.16 L579.93 178.00 L580.32 179.83 L580.69 181.66 L581.07 183.50 L581.44 185.34 L581.80 187.17 L582.17 189.01 L582.53 190.85 L582.88 192.68 L583.24 194.52 L583.59 196.36 L583.93 198.20 L584.28 200.04 L584.62 201.88 L584.96 203.73 L585.29 205.57 L585.62 207.41 L585.95 209.25 L586.28 211.10 L586.60 212.94 L586.92 214.79 L587.24 216.63 L587.55 218.48 L587.86 220.32 L588.17 222.17 L588.48 224.02 L588.78 225.87 L589.08 227.71 L589.38 229.56 L589.68 231.41 L589.97 233.26 L590.26 235.11 L590.55 236.96 L590.84 238.82 L591.12 240.67 L591.41 242.52 L591.69 244.37 L591.96 246.22 L592.24 248.08 L592.51 249.93 L592.78 251.79 L593.05 253.64 L593.32 255.50 L593.58 257.35 L593.84 259.21 L594.10 261.06 L594.36 262.92 L594.61 264.78 L594.86 266.64 L595.10 268.49 L595.35 270.35 L595.59 272.21 L595.83 274.07 L596.06 275.93 L596.29 277.79 L596.52 279.65 L596.75 281.51 L596.97 283.37 L597.19 285.23 L597.40 287.10 L597.61 288.96 L597.82 290.82 L598.03 292.68 L598.23 294.55 L598.43 296.41 L598.62 298.27 L598.81 300.14 L599.00 302.00 L599.18 303.87 L599.36 305.73 L599.53 307.60 L599.71 309.47 L599.87 311.33 L600.04 313.20 L600.19 315.07 L600.35 316.93 L600.50 318.80 L600.65 320.67 L600.79 322.54 L600.93 324.40 L601.06 326.27 L601.19 328.14 L601.31 330.01 L601.43 331.88 L601.55 333.75 L601.66 335.62 L601.77 337.49 L601.87 339.36 L601.96 341.23 L602.06 343.10 L602.14 344.98 L602.22 346.85 L602.30 348.72 L602.37 350.59 L602.44 352.46 L602.50 354.34 L602.56 356.21 L602.61 358.08 L602.66 359.95 L602.70 361.83 L602.73 363.70 L602.76 365.58 L602.79 367.45 L602.81 369.32 L602.82 371.20" stroke="#0000ff" stroke-width="1.6" fill="none"/>
<path d="M45.52 370.62 L47.38 370.56 L49.24 370.49 L51.10 370.43 L52.96 370.37 L54.82 370.31 L56.68 370.25 L58.54 370.19 L60.40 370.14 L62.26 370.09 L64.13 370.04 L65.99 369.99 L67.85 369.94 L69.72 369.89 L71.58 369.85 L73.45 369.80 L75.31 369.76 L77.18 369.72 L79.04 369.68 L80.91 369.64 L82.77 369.60 L84.64 369.57 L86.51 369.53 L88.37 369.49 L90.24 369.46 L92.11 369.42 L93.97 369.39 L95.84 369.35 L97.71 369.32 L99.58 369.29 L101.44 369.26 L103.31 369.22 L105.18 369.19 L107.05 369.16 L108.92 369.12 L110.78 369.09 L112.65 369.06 L114.52 369.02 L116.39 368.99 L118.26 368.96 L120.13 368.92 L122.00 368.89 L123.87 368.85 L125.74 368.81 L127.61 368.77 L129.47 368.74 L131.34 368.70 L133.21 368.66 L135.08 368.62 L136.95 368.57 L138.82 368.53 L140.69 368.48 L142.56 368.44 L144.43 368.39 L146.30 368.34 L148.17 368.29 L150.03 368.24 L151.90 368.18 L153.77 368.13 L155.64 368.07 L157.51 368.01 L159.38 367.95 L161.24 367.89 L163.11 367.82 L164.98 367.75 L166.85 367.68 L168.71 367.61 L170.58 367.53 L172.45 367.46 L174.31 367.38 L176.18 367.29 L178.05 367.21 L179.91 367.12 L181.78 367.03 L183.64 366.94 L185.51 366.84 L187.37 366.74 L189.24 366.64 L191.10 366.53 L192.97 366.42 L194.83 366.31 L196.69 366.19 L198.56 366.07 L200.42 365.95 L202.28 365.83 L204.14 365.70 L206.00 365.56 L207.87 365.42 L209.73 365.28 L211.59 365.14 L213.45 364.99 L215.31 364.83 L217.16 364.68 L219.02 364.51 L220.88 364.35 L222.74 364.18 L224.60 364.00 L226.45 363.82 L228.31 363.64 L230.16 363.45 L232.02 363.25 L233.87 363.06 L235.73 362.85 L237.58 362.64 L239.43 362.43 L241.29 362.21 L243.14 361.99 L244.99 361.76 L246.84 361.53 L248.69 361.29 L250.54 361.04 L252.39 360.79 L254.23 360.53 L256.08 360.27 L257.93 359.99 L259.77 359.72 L261.61 359.43 L263.45 359.13 L265.29 358.83 L267.13 358.52 L268.96 358.19 L270.80 357.86 L272.63 357.52 L274.45 357.17 L276.28 356.81 L278.11 356.43 L279.93 356.05 L281.75 355.65 L283.56 355.25 L285.37 354.83 L287.18 354.40 L288.99 353.95 L290.79 353.49 L292.59 353.02 L294.39 352.54 L296.18 352.04 L297.97 351.52 L299.76 351.00 L301.54 350.45 L303.32 349.89 L305.09 349.32 L306.86 348.73 L308.62 348.12 L310.38 347.50 L312.14 346.86 L313.89 346.20 L315.64 345.52 L317.38 344.83 L319.11 344.11 L320.84 343.38 L322.57 342.63 L324.29 341.86 L326.00 341.07 L327.71 340.26 L329.41 339.43 L331.10 338.58 L332.78 337.71 L334.44 336.82 L336.10 335.91 L337.73 334.98 L339.36 334.02 L340.97 333.05 L342.56 332.05 L344.13 331.04 L345.69 330.00 L347.22 328.94 L348.73 327.85 L350.23 326.75 L351.70 325.62 L353.15 324.48 L354.59 323.32 L356.01 322.13 L357.41 320.93 L358.79 319.72 L360.17 318.49 L361.53 317.24 L362.87 315.97 L364.20 314.70 L365.52 313.41 L366.83 312.10 L368.13 310.79 L369.43 309.46 L370.71 308.12 L371.98 306.78 L373.25 305.42 L374.52 304.05 L375.77 302.68 L377.03 301.30 L378.28 299.91 L379.52 298.52 L380.77 297.13 L382.01 295.72 L383.26 294.32 L384.50 292.91 L385.74 291.50 L386.98 290.08 L388.21 288.66 L389.44 287.23 L390.66 285.80 L391.87 284.36 L393.07 282.91 L394.26 281.46 L395.44 279.99 L396.61 278.53 L397.77 277.05 L398.91 275.56 L400.04 274.07 L401.15 272.57 L402.25 271.06 L403.34 269.54 L404.41 268.01 L405.47 266.48 L406.52 264.94 L407.56 263.40 L408.59 261.84 L409.61 260.28 L410.61 258.72 L411.61 257.15 L412.60 255.57 L413.57 253.99 L414.54 252.40 L415.50 250.81 L416.46 249.21 L417.40 247.61 L418.34 246.00 L419.27 244.39 L420.19 242.77 L421.11 241.15 L422.02 239.53 L422.93 237.90 L423.83 236.27 L424.72 234.64 L425.61 233.00 L426.50 231.36 L427.38 229.72 L428.26 228.08 L429.14 226.43 L430.01 224.79 L430.89 223.14 L431.76 221.49 L432.62 219.84 L433.49 218.18 L434.36 216.53 L435.22 214.88 L436.09 213.22 L436.96 211.57 L437.82 209.91 L438.69 208.26 L439.56 206.61 L440.43 204.95 L441.30 203.30 L442.18 201.65 L443.06 200.00 L443.94 198.35 L444.82 196.71 L445.70 195.06 L446.58 193.40 L447.45 191.75 L448.32 190.09 L449.17 188.42 L450.02 186.75 L450.86 185.08 L451.69 183.39 L452.51 181.71 L453.33 180.02 L454.14 178.32 L454.94 176.62 L455.73 174.92 L456.52 173.21 L457.31 171.50 L458.09 169.79 L458.86 168.07 L459.64 166.35 L460.40 164.64 L461.17 162.92 L461.93 161.19 L462.69 159.47 L463.45 157.75 L464.21 156.02 L464.97 154.30 L465.73 152.58 L466.48 150.86 L467.24 149.13 L468.00 147.41 L468.76 145.70 L469.52 143.98 L470.29 142.27 L471.05 140.55 L471.82 138.84 L472.60 137.14 L473.37 135.44 L474.16 133.74 L474.94 132.04 L475.74 130.35 L476.53 128.67 L477.34 126.99 L478.15 125.31 L478.97 123.64 L479.80 121.98 L480.63 120.32 L481.47 118.67 L482.32 117.03 L483.18 115.39 L484.05 113.76 L484.93 112.14 L485.83 110.53 L486.73 108.92 L487.64 107.33 L488.57 105.74 L489.50 104.16 L490.46 102.59 L491.42 101.04 L492.40 99.49 L493.39 97.95 L494.40 96.42 L495.44 94.91 L496.49 93.40 L497.58 91.89 L498.70 90.40 L499.85 88.92 L501.04 87.44 L502.27 85.97 L503.55 84.50 L504.88 83.04 L506.25 81.60 L507.67 80.20 L509.14 78.86 L510.66 77.62 L512.22 76.49 L513.82 75.51 L515.48 74.69 L517.17 74.07 L518.91 73.67 L520.68 73.51 L522.49 73.60 L524.30 73.92 L526.10 74.47 L527.85 75.22 L529.53 76.15 L531.12 77.26 L532.58 78.52 L533.91 79.91 L535.06 81.43 L536.04 83.06 L536.86 84.76 L537.57 86.53 L538.21 88.33 L538.82 90.14 L539.44 91.94 L540.10 93.71 L540.81 95.45 L541.56 97.17 L542.33 98.87 L543.13 100.55 L543.95 102.21 L544.78 103.87 L545.61 105.52 L546.43 107.17 L547.25 108.82 L548.05 110.48 L548.82 112.15 L549.57 113.84 L550.28 115.54 L550.97 117.25 L551.63 118.98 L552.26 120.72 L552.87 122.47 L553.45 124.23 L554.01 126.00 L554.55 127.78 L555.07 129.58 L555.57 131.38 L556.05 133.19 L556.52 135.00 L556.97 136.82 L557.40 138.65 L557.82 140.49 L558.23 142.33 L558.63 144.17 L559.02 146.02 L559.40 147.87 L559.78 149.72 L560.14 151.57 L560.51 153.43 L560.86 155.29 L561.22 157.14 L561.57 159.00 L561.93 160.85 L562.28 162.70 L562.64 164.56 L562.99 166.40 L563.34 168.25 L563.70 170.10 L564.05 171.94 L564.41 173.79 L564.76 175.63 L565.11 177.47 L565.47 179.31 L565.82 181.15 L566.17 182.99 L566.53 184.82 L566.88 186.66 L567.23 188.50 L567.58 190.33 L567.93 192.16 L568.27 194.00 L568.62 195.83 L568.97 197.66 L569.31 199.49 L569.66 201.32 L570.00 203.15 L570.34 204.98 L570.68 206.81 L571.02 208.64 L571.36 210.47 L571.69 212.30 L572.03 214.12 L572.36 215.95 L572.69 217.78 L573.02 219.61 L573.35 221.44 L573.67 223.27 L573.99 225.10 L574.32 226.92 L574.63 228.75 L574.95 230.58 L575.26 232.41 L575.57 234.25 L575.88 236.08 L576.19 237.91 L576.49 239.74 L576.80 241.58 L577.09 243.41 L577.39 245.24 L577.68 247.08 L577.97 248.92 L578.26 250.76 L578.54 252.60 L578.82 254.44 L579.10 256.28 L579.37 258.12 L579.65 259.96 L579.92 261.81 L580.18 263.65 L580.45 265.50 L580.71 267.34 L580.97 269.19 L581.22 271.04 L581.48 272.89 L581.73 274.73 L581.98 276.58 L582.22 278.44 L582.47 280.29 L582.71 282.14 L582.95 283.99 L583.19 285.84 L583.43 287.70 L583.66 289.55 L583.90 291.41 L584.13 293.26 L584.36 295.12 L584.58 296.97 L584.81 298.83 L585.04 300.68 L585.26 302.54 L585.48 304.40 L585.70 306.25 L585.92 308.11 L586.14 309.97 L586.36 311.82 L586.57 313.68 L586.79 315.54 L587.00 317.40 L587.21 319.26 L587.43 321.11 L587.64 322.97 L587.85 324.83 L588.06 326.69 L588.27 328.54 L588.48 330.40 L588.68 332.26 L588.89 334.12 L589.10 335.97 L589.31 337.83 L589.51 339.69 L589.72 341.54 L589.93 343.40 L590.13 345.25 L590.34 347.11 L590.54 348.96 L590.75 350.82 L590.96 352.67 L591.16 354.52 L591.37 356.38 L591.58 358.23 L591.78 360.08 L591.99 361.93 L592.20 363.78 L592.41 365.63 L592.62 367.48" stroke="#0000ff" stroke-width="1.6" fill="none"/>
<path d="M45.47 370.57 L47.45 370.52 L49.43 370.46 L51.41 370.41 L53.39 370.36 L55.37 370.31 L57.35 370.27 L59.33 370.22 L61.31 370.18 L63.29 370.13 L65.27 370.09 L67.24 370.05 L69.22 370.01 L71.20 369.97 L73.18 369.94 L75.15 369.90 L77.13 369.86 L79.11 369.83 L81.08 369.79 L83.06 369.75 L85.03 369.72 L87.01 369.68 L88.98 369.65 L90.96 369.61 L92.93 369.58 L94.91 369.54 L96.88 369.51 L98.85 369.47 L100.82 369.44 L102.80 369.40 L104.77 369.36 L106.74 369.32 L108.71 369.28 L110.69 369.24 L112.66 369.20 L114.63 369.16 L116.60 369.11 L118.57 369.07 L120.54 369.02 L122.51 368.97 L124.48 368.92 L126.45 368.87 L128.42 368.82 L130.39 368.77 L132.35 368.71 L134.32 368.65 L136.29 368.59 L138.26 368.53 L140.23 368.46 L142.19 368.39 L144.16 368.32 L146.13 368.25 L148.10 368.17 L150.06 368.10 L152.03 368.01 L154.00 367.93 L155.96 367.84 L157.93 367.75 L159.89 367.66 L161.86 367.56 L163.82 367.46 L165.79 367.36 L167.75 367.25 L169.72 367.14 L171.68 367.02 L173.65 366.91 L175.61 366.78 L177.58 366.66 L179.54 366.53 L181.50 366.39 L183.47 366.25 L185.43 366.11 L187.39 365.96 L189.36 365.81 L191.32 365.65 L193.28 365.49 L195.25 365.32 L197.21 365.15 L199.17 364.97 L201.13 364.79 L203.09 364.60 L205.06 364.41 L207.02 364.21 L208.98 364.01 L210.94 363.80 L212.90 363.58 L214.86 363.36 L216.83 363.14 L218.79 362.90 L220.75 362.66 L222.71 362.42 L224.67 362.17 L226.63 361.91 L228.59 361.65 L230.55 361.38 L232.51 361.10 L234.47 360.82 L236.43 360.53 L238.39 360.23 L240.35 359.93 L242.31 359.61 L244.27 359.30 L246.23 358.97 L248.19 358.64 L250.15 358.30 L252.11 357.95 L254.07 357.59 L256.02 357.22 L257.98 356.84 L259.93 356.46 L261.87 356.06 L263.82 355.64 L265.76 355.22 L267.70 354.79 L269.63 354.34 L271.56 353.87 L273.48 353.40 L275.40 352.90 L277.32 352.40 L279.22 351.87 L281.12 351.33 L283.01 350.78 L284.90 350.20 L286.78 349.61 L288.65 349.00 L290.51 348.37 L292.36 347.73 L294.21 347.06 L296.04 346.37 L297.87 345.66 L299.68 344.93 L301.49 344.17 L303.28 343.40 L305.06 342.60 L306.83 341.78 L308.59 340.93 L310.33 340.06 L312.07 339.16 L313.79 338.24 L315.49 337.29 L317.19 336.33 L318.87 335.33 L320.54 334.32 L322.20 333.28 L323.84 332.22 L325.47 331.14 L327.09 330.04 L328.69 328.91 L330.29 327.77 L331.87 326.61 L333.43 325.42 L334.99 324.22 L336.53 322.99 L338.06 321.75 L339.57 320.49 L341.07 319.21 L342.56 317.92 L344.04 316.61 L345.50 315.28 L346.95 313.93 L348.39 312.57 L349.81 311.19 L351.23 309.80 L352.62 308.39 L354.01 306.97 L355.38 305.53 L356.74 304.08 L358.09 302.61 L359.42 301.14 L360.74 299.65 L362.04 298.15 L363.34 296.63 L364.62 295.11 L365.88 293.57 L367.14 292.02 L368.38 290.47 L369.60 288.90 L370.82 287.32 L372.02 285.74 L373.21 284.14 L374.38 282.54 L375.54 280.92 L376.69 279.31 L377.82 277.68 L378.94 276.04 L380.05 274.40 L381.14 272.76 L382.22 271.11 L383.29 269.45 L384.34 267.78 L385.38 266.12 L386.41 264.44 L387.42 262.77 L388.43 261.09 L389.43 259.40 L390.41 257.71 L391.39 256.01 L392.36 254.32 L393.32 252.61 L394.28 250.91 L395.23 249.20 L396.17 247.49 L397.11 245.77 L398.04 244.05 L398.98 242.33 L399.90 240.60 L400.83 238.88 L401.75 237.15 L402.68 235.41 L403.60 233.68 L404.52 231.94 L405.45 230.21 L406.37 228.46 L407.30 226.72 L408.22 224.98 L409.14 223.23 L410.07 221.48 L410.99 219.73 L411.91 217.98 L412.83 216.22 L413.74 214.47 L414.65 212.71 L415.56 210.94 L416.47 209.18 L417.37 207.41 L418.26 205.64 L419.16 203.87 L420.04 202.10 L420.92 200.32 L421.79 198.54 L422.66 196.76 L423.52 194.97 L424.37 193.18 L425.22 191.39 L426.05 189.60 L426.88 187.80 L427.70 186.00 L428.51 184.20 L429.31 182.39 L430.11 180.58 L430.90 178.77 L431.68 176.96 L432.45 175.15 L433.22 173.33 L433.99 171.51 L434.74 169.69 L435.50 167.87 L436.24 166.04 L436.99 164.22 L437.73 162.39 L438.46 160.56 L439.19 158.74 L439.92 156.91 L440.65 155.08 L441.37 153.24 L442.09 151.41 L442.81 149.58 L443.52 147.75 L444.24 145.91 L444.95 144.08 L445.67 142.24 L446.38 140.41 L447.09 138.58 L447.80 136.74 L448.52 134.91 L449.23 133.07 L449.95 131.24 L450.66 129.41 L451.38 127.58 L452.10 125.75 L452.82 123.92 L453.55 122.09 L454.28 120.26 L455.01 118.44 L455.75 116.61 L456.49 114.79 L457.23 112.97 L457.98 111.15 L458.73 109.33 L459.49 107.52 L460.25 105.70 L461.02 103.89 L461.80 102.08 L462.58 100.28 L463.37 98.47 L464.17 96.67 L464.97 94.87 L465.79 93.08 L466.61 91.29 L467.43 89.50 L468.27 87.71 L469.12 85.93 L469.97 84.15 L470.84 82.37 L471.71 80.60 L472.60 78.83 L473.50 77.07 L474.40 75.31 L475.32 73.55 L476.25 71.80 L477.19 70.05 L478.15 68.31 L479.11 66.57 L480.09 64.83 L481.08 63.10 L482.09 61.38 L483.11 59.66 L484.14 57.95 L485.19 56.24 L486.25 54.53 L487.33 52.83 L488.43 51.15 L489.57 49.49 L490.75 47.87 L491.98 46.30 L493.28 44.79 L494.66 43.35 L496.12 41.99 L497.68 40.73 L499.32 39.61 L501.02 38.65 L502.77 37.91 L504.55 37.42 L506.34 37.22 L508.14 37.34 L509.91 37.75 L511.65 38.44 L513.34 39.37 L514.96 40.49 L516.49 41.78 L517.92 43.20 L519.25 44.73 L520.49 46.36 L521.64 48.05 L522.72 49.81 L523.74 51.60 L524.70 53.42 L525.63 55.25 L526.52 57.07 L527.38 58.90 L528.21 60.73 L529.01 62.56 L529.78 64.39 L530.52 66.22 L531.24 68.05 L531.93 69.89 L532.60 71.73 L533.24 73.58 L533.87 75.43 L534.47 77.28 L535.06 79.14 L535.62 81.00 L536.17 82.87 L536.71 84.75 L537.23 86.63 L537.74 88.52 L538.23 90.41 L538.70 92.31 L539.17 94.21 L539.62 96.12 L540.06 98.03 L540.49 99.95 L540.91 101.87 L541.31 103.80 L541.71 105.72 L542.09 107.66 L542.47 109.59 L542.84 111.53 L543.20 113.47 L543.55 115.42 L543.89 117.37 L544.23 119.32 L544.56 121.27 L544.89 123.22 L545.20 125.18 L545.52 127.13 L545.83 129.09 L546.13 131.05 L546.44 133.01 L546.74 134.98 L547.03 136.94 L547.33 138.90 L547.62 140.86 L547.91 142.83 L548.20 144.79 L548.49 146.75 L548.79 148.71 L549.08 150.67 L549.37 152.63 L549.66 154.59 L549.96 156.55 L550.26 158.51 L550.55 160.47 L550.85 162.42 L551.15 164.38 L551.45 166.33 L551.75 168.29 L552.05 170.24 L552.35 172.19 L552.65 174.14 L552.95 176.10 L553.25 178.05 L553.56 180.00 L553.86 181.95 L554.16 183.90 L554.46 185.85 L554.77 187.79 L555.07 189.74 L555.37 191.69 L555.68 193.64 L555.98 195.59 L556.28 197.53 L556.58 199.48 L556.89 201.43 L557.19 203.38 L557.49 205.32 L557.79 207.27 L558.09 209.22 L558.39 211.16 L558.69 213.11 L558.98 215.06 L559.28 217.00 L559.58 218.95 L559.87 220.90 L560.17 222.84 L560.46 224.79 L560.75 226.74 L561.04 228.69 L561.33 230.64 L561.62 232.58 L561.91 234.53 L562.19 236.48 L562.48 238.43 L562.76 240.38 L563.04 242.33 L563.32 244.28 L563.60 246.23 L563.88 248.19 L564.15 250.14 L564.43 252.09 L564.70 254.04 L564.97 256.00 L565.24 257.95 L565.51 259.91 L565.77 261.86 L566.04 263.82 L566.30 265.77 L566.56 267.73 L566.82 269.68 L567.08 271.64 L567.34 273.60 L567.59 275.55 L567.84 277.51 L568.10 279.47 L568.35 281.42 L568.60 283.38 L568.84 285.34 L569.09 287.30 L569.33 289.26 L569.58 291.22 L569.82 293.18 L570.06 295.14 L570.29 297.10 L570.53 299.06 L570.77 301.02 L571.00 302.98 L571.23 304.94 L571.46 306.90 L571.69 308.86 L571.92 310.82 L572.14 312.78 L572.37 314.74 L572.59 316.71 L572.81 318.67 L573.03 320.63 L573.25 322.59 L573.46 324.55 L573.68 326.51 L573.89 328.48 L574.10 330.44 L574.31 332.40 L574.52 334.36 L574.73 336.33 L574.93 338.29 L575.13 340.25 L575.34 342.21 L575.54 344.18 L575.74 346.14 L575.93 348.10 L576.13 350.06 L576.32 352.03 L576.51 353.99 L576.70 355.95 L576.89 357.91 L577.08 359.88 L577.27 361.84 L577.45 363.80 L577.63 365.76 L577.81 367.72 L577.99 369.69" stroke="#0000ff" stroke-width="1.6" fill="none"/>
<circle cx="153.9" cy="63.7" r="3.0" fill="#000"/>
<path d="M170.8 66.25L176.8 66.25L173.8 60.550000000000004Z" fill="#000"/>
<text class="l" x="158" y="67.2" style="fill:#111">,</text>
<text class="l" x="184" y="67.2" style="fill:#111">:</text>
<text class="l" x="197.5" y="67.2">m<tspan dy="2.5" font-size="8.5px">c</tspan><tspan dy="-2.5" dx="2">=</tspan><tspan class="i" font-size="11.5px" fill="#666">β</tspan></text>
<circle cx="153.9" cy="87.4" r="3.0" fill="#fff" fill-opacity="0" stroke="#666" stroke-width="0.6"/>
<path d="M170.8 89.80000000000001L176.8 89.80000000000001L173.8 84.4Z" fill="none" stroke="#666" stroke-width="0.6"/>
<text class="l" x="158" y="90.9" style="fill:#111">,</text>
<text class="l" x="184" y="90.9" style="fill:#111">:</text>
<text class="l" x="197.5" y="90.9">m<tspan dy="2.5" font-size="8.5px">c</tspan><tspan dy="-2.5" dx="2">=2</tspan><tspan class="i" font-size="11.5px" fill="#666">β</tspan></text>
<rect x="151.1" y="108.2" width="5.6" height="5.6" fill="#000"/>
<path d="M170.8 108.6L176.8 108.6L173.8 114.0Z" fill="#000"/>
<text class="l" x="158" y="114.5" style="fill:#111">,</text>
<text class="l" x="184" y="114.5" style="fill:#111">:</text>
<text class="l" x="197.5" y="114.5">m<tspan dy="2.5" font-size="8.5px">c</tspan><tspan dy="-2.5" dx="2">=3</tspan><tspan class="i" font-size="11.5px" fill="#666">β</tspan></text>
<circle cx="572" cy="148.8" r="2.2" fill="#000"/>
<path d="M569.5 170.925L574.5 170.925L572 166.175Z" fill="#000"/>
<circle cx="530.6" cy="80.3" r="2.2" fill="#000"/>
<path d="M528.8 76.625L533.8 76.625L531.3 71.875Z" fill="#000"/>
<circle cx="491.25" cy="137" r="2.2" fill="#000"/>
<path d="M488.75 130.125L493.75 130.125L491.25 125.375Z" fill="#000"/>
<circle cx="450" cy="215.75" r="2.2" fill="#000"/>
<path d="M447.5 210.875L452.5 210.875L450 206.125Z" fill="#000"/>
<circle cx="410" cy="283.75" r="2.2" fill="#000"/>
<path d="M407.5 281.625L412.5 281.625L410 276.875Z" fill="#000"/>
<circle cx="369.5" cy="323" r="2.2" fill="#000"/>
<path d="M367.0 322.625L372.0 322.625L369.5 317.875Z" fill="#000"/>
<circle cx="328.75" cy="346.25" r="2.2" fill="#000"/>
<path d="M326.25 347.125L331.25 347.125L328.75 342.375Z" fill="#000"/>
<circle cx="287.5" cy="357.8" r="2.2" fill="#000"/>
<path d="M285.0 359.125L290.0 359.125L287.5 354.375Z" fill="#000"/>
<circle cx="248" cy="365" r="2.2" fill="#000"/>
<path d="M245.5 366.325L250.5 366.325L248 361.575Z" fill="#000"/>
<circle cx="207" cy="368" r="2.2" fill="#000"/>
<path d="M204.5 369.425L209.5 369.425L207 364.675Z" fill="#000"/>
<circle cx="166" cy="369.6" r="2.2" fill="#000"/>
<path d="M163.5 371.125L168.5 371.125L166 366.375Z" fill="#000"/>
<circle cx="126" cy="370" r="2.2" fill="#000"/>
<path d="M123.5 371.725L128.5 371.725L126 366.975Z" fill="#000"/>
<circle cx="87" cy="370.4" r="2.2" fill="#000"/>
<path d="M84.5 372.125L89.5 372.125L87 367.375Z" fill="#000"/>
<circle cx="45.5" cy="370.7" r="2.2" fill="#000"/>
<path d="M43.0 372.325L48.0 372.325L45.5 367.575Z" fill="#000"/>
<circle cx="545.9" cy="81.4" r="2.5" fill="#fff" fill-opacity="0" stroke="#666" stroke-width="0.6"/>
<path d="M543.5 88.42L548.3 88.42L545.9 84.1Z" fill="none" stroke="#666" stroke-width="0.6"/>
<circle cx="497" cy="77.5" r="2.5" fill="#fff" fill-opacity="0" stroke="#666" stroke-width="0.6"/>
<path d="M494.6 68.92L499.4 68.92L497 64.6Z" fill="none" stroke="#666" stroke-width="0.6"/>
<circle cx="452.5" cy="181.25" r="2.5" fill="#fff" fill-opacity="0" stroke="#666" stroke-width="0.6"/>
<path d="M450.1 175.17L454.9 175.17L452.5 170.85Z" fill="none" stroke="#666" stroke-width="0.6"/>
<circle cx="408" cy="262.5" r="2.5" fill="#fff" fill-opacity="0" stroke="#666" stroke-width="0.6"/>
<path d="M405.6 260.67L410.4 260.67L408 256.35Z" fill="none" stroke="#666" stroke-width="0.6"/>
<circle cx="365" cy="318" r="2.5" fill="#fff" fill-opacity="0" stroke="#666" stroke-width="0.6"/>
<path d="M362.6 317.92L367.4 317.92L365 313.6Z" fill="none" stroke="#666" stroke-width="0.6"/>
<circle cx="322.5" cy="344.5" r="2.5" fill="#fff" fill-opacity="0" stroke="#666" stroke-width="0.6"/>
<path d="M320.1 345.42L324.9 345.42L322.5 341.1Z" fill="none" stroke="#666" stroke-width="0.6"/>
<circle cx="280" cy="358.9" r="2.5" fill="#fff" fill-opacity="0" stroke="#666" stroke-width="0.6"/>
<path d="M277.6 360.12L282.4 360.12L280 355.8Z" fill="none" stroke="#666" stroke-width="0.6"/>
<circle cx="238.75" cy="365" r="2.5" fill="#fff" fill-opacity="0" stroke="#666" stroke-width="0.6"/>
<path d="M236.35 366.22L241.15 366.22L238.75 361.90000000000003Z" fill="none" stroke="#666" stroke-width="0.6"/>
<circle cx="196.7" cy="369" r="2.5" fill="#fff" fill-opacity="0" stroke="#666" stroke-width="0.6"/>
<path d="M194.29999999999998 370.42L199.1 370.42L196.7 366.1Z" fill="none" stroke="#666" stroke-width="0.6"/>
<circle cx="155" cy="370.2" r="2.5" fill="#fff" fill-opacity="0" stroke="#666" stroke-width="0.6"/>
<path d="M152.6 371.72L157.4 371.72L155 367.40000000000003Z" fill="none" stroke="#666" stroke-width="0.6"/>
<circle cx="113" cy="371.3" r="2.5" fill="#fff" fill-opacity="0" stroke="#666" stroke-width="0.6"/>
<path d="M110.6 372.92L115.4 372.92L113 368.6Z" fill="none" stroke="#666" stroke-width="0.6"/>
<circle cx="72" cy="371.9" r="2.5" fill="#fff" fill-opacity="0" stroke="#666" stroke-width="0.6"/>
<path d="M69.6 373.52000000000004L74.4 373.52000000000004L72 369.20000000000005Z" fill="none" stroke="#666" stroke-width="0.6"/>
<rect x="509.3" y="23.9" width="4.6" height="4.6" fill="#000"/>
<path d="M509.3 19.46L513.9 19.46L511.6 23.6Z" fill="#000"/>
<rect x="450.95" y="91.45" width="4.6" height="4.6" fill="#000"/>
<path d="M450.95 81.41L455.55 81.41L453.25 85.55Z" fill="#000"/>
<rect x="401.45" y="226.95" width="4.6" height="4.6" fill="#000"/>
<path d="M401.45 221.91L406.05 221.91L403.75 226.05Z" fill="#000"/>
<rect x="353.95" y="298.5" width="4.6" height="4.6" fill="#000"/>
<path d="M353.95 295.46000000000004L358.55 295.46000000000004L356.25 299.6Z" fill="#000"/>
<rect x="307.7" y="338.59999999999997" width="4.6" height="4.6" fill="#000"/>
<path d="M307.7 337.96000000000004L312.3 337.96000000000004L310 342.1Z" fill="#000"/>
<rect x="262.7" y="353.0" width="4.6" height="4.6" fill="#000"/>
<path d="M262.7 352.76000000000005L267.3 352.76000000000005L265 356.90000000000003Z" fill="#000"/>
<rect x="217.7" y="362.7" width="4.6" height="4.6" fill="#000"/>
<path d="M217.7 362.66L222.3 362.66L220 366.8Z" fill="#000"/>
<rect x="173.95" y="364.9" width="4.6" height="4.6" fill="#000"/>
<path d="M173.95 364.96000000000004L178.55 364.96000000000004L176.25 369.1Z" fill="#000"/>
<rect x="129.7" y="367.7" width="4.6" height="4.6" fill="#000"/>
<path d="M129.7 367.86L134.3 367.86L132 372.0Z" fill="#000"/>
<rect x="87.7" y="367.3" width="4.6" height="4.6" fill="#000"/>
<path d="M87.7 367.46000000000004L92.3 367.46000000000004L90 371.6Z" fill="#000"/>
<rect x="43.2" y="368.7" width="4.6" height="4.6" fill="#000"/>
<path d="M43.2 368.76000000000005L47.8 368.76000000000005L45.5 372.90000000000003Z" fill="#000"/>
<text class="n" x="491.2" y="25.8" textLength="13.7" lengthAdjust="spacing">n=1</text>
<text class="n" x="477" y="73.2" textLength="13.7" lengthAdjust="spacing">n=2</text>
<text class="n" x="533.9" y="72.6" textLength="13.7" lengthAdjust="spacing">n=2</text>
<text class="n" x="553.2" y="85" textLength="13.7" lengthAdjust="spacing">n=1</text>
<text class="n" x="578.3" y="156.5" textLength="13.7" lengthAdjust="spacing">n=1</text>
<text class="n" x="434.3" y="90" textLength="13.7" lengthAdjust="spacing">n=2</text>
<text class="n" x="497" y="147.5" textLength="13.7" lengthAdjust="spacing">n=3</text>
<text class="n" x="435" y="183" textLength="13.7" lengthAdjust="spacing">n=3</text>
<text class="n" x="383.5" y="230" textLength="13.7" lengthAdjust="spacing">n=3</text>
<text class="s" x="532.8" y="221.5">m<tspan dy="2" font-size="7px">c</tspan><tspan dy="-2" dx="2">=3</tspan><tspan class="i" font-size="9px">β</tspan></text>
<text class="s" x="553.3" y="280">m<tspan dy="2" font-size="7px">c</tspan><tspan dy="-2" dx="2">=2</tspan><tspan class="i" font-size="9px">β</tspan></text>
<text class="s" x="602" y="305.5">m<tspan dy="2" font-size="7px">c</tspan><tspan dy="-2" dx="2">=</tspan><tspan class="i" font-size="9px">β</tspan></text>
</svg></body></html>
